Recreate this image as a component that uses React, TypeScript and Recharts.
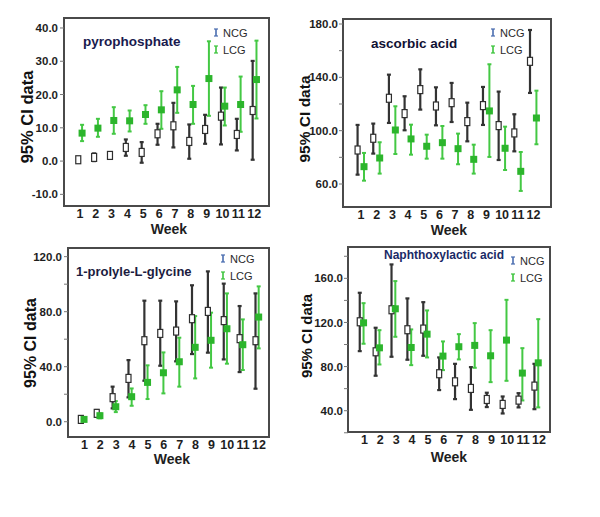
import React from "react";
import { ScatterChart, Scatter, XAxis, YAxis, ErrorBar, ReferenceArea } from "recharts";

const weeks = [1, 2, 3, 4, 5, 6, 7, 8, 9, 10, 11, 12];
const seriesNames = ["NCG", "LCG"];

// pyrophosphate
const pyroNcgMean = [0.4, 1.1, 1.7, 4.1, 2.6, 8.2, 10.6, 5.9, 9.5, 13.5, 8.0, 15.2];
const pyroNcgLow = [-0.3, 0.0, 0.8, 1.6, -0.5, 4.9, 4.1, 0.7, 5.2, 5.0, 3.2, 0.4];
const pyroNcgHigh = [1.0, 2.3, 2.6, 6.5, 5.7, 11.2, 17.5, 11.0, 13.9, 22.1, 12.7, 30.1];
const pyroLcgMean = [8.4, 9.9, 12.2, 12.1, 14.0, 15.4, 21.4, 17.0, 24.8, 16.5, 17.0, 24.5];
const pyroLcgLow = [6.0, 7.3, 8.2, 8.9, 11.2, 9.7, 14.5, 11.2, 13.6, 10.7, 8.8, 12.8];
const pyroLcgHigh = [10.9, 12.7, 16.2, 15.2, 16.8, 21.0, 28.3, 22.6, 36.0, 22.1, 25.4, 36.2];
const pyroTicks = [-10, 0, 10, 20, 30, 40];
const pyroLabeled = [-10, 0, 10, 20, 30, 40];

// ascorbic acid
const ascNcgMean = [85.5, 94.3, 124.3, 112.8, 130.8, 118.5, 121.0, 106.8, 118.8, 103.8, 98.3, 152.0];
const ascNcgLow = [67.0, 82.8, 105.8, 100.3, 115.8, 104.0, 106.5, 92.0, 104.3, 78.0, 84.5, 128.3];
const ascNcgHigh = [104.3, 105.3, 142.0, 125.8, 146.0, 132.5, 135.8, 121.0, 132.8, 129.3, 112.3, 175.5];
const ascLcgMean = [73.0, 79.5, 100.5, 93.8, 88.3, 91.0, 86.5, 78.5, 114.8, 86.8, 69.5, 109.5];
const ascLcgLow = [62.5, 67.8, 82.5, 82.0, 79.0, 79.0, 74.8, 67.8, 80.3, 70.5, 54.8, 89.8];
const ascLcgHigh = [83.3, 91.3, 118.3, 104.5, 97.0, 103.5, 97.8, 89.5, 149.8, 103.0, 84.0, 130.0];
const ascTicks = [60, 80, 100, 120, 140, 160, 180];
const ascLabeled = [60, 100, 140, 180];

// 1-prolyle-L-glycine
const proNcgMean = [1.7, 6.1, 17.5, 31.5, 58.9, 64.2, 65.9, 74.9, 80.2, 73.5, 60.4, 58.9];
const proNcgLow = [0.2, 3.5, 9.7, 17.7, 29.8, 40.7, 43.9, 49.2, 50.2, 45.3, 36.1, 24.0];
const proNcgHigh = [3.2, 8.5, 25.5, 44.8, 88.0, 88.0, 87.5, 99.2, 109.3, 100.4, 84.1, 93.3];
const proLcgMean = [1.7, 4.4, 10.9, 18.2, 28.6, 35.6, 43.6, 54.1, 59.2, 67.6, 56.0, 76.1];
const proLcgLow = [0.5, 2.5, 7.0, 11.6, 16.5, 20.6, 25.5, 31.5, 39.3, 42.2, 37.6, 53.3];
const proLcgHigh = [3.0, 6.0, 15.0, 24.2, 41.0, 50.4, 61.1, 76.8, 79.3, 93.3, 74.4, 98.4];
const proTicks = [0, 20, 40, 60, 80, 100, 120];
const proLabeled = [0, 40, 80, 120];

// Naphthoxylactic acid
const napNcgMean = [120.6, 93.4, 131.5, 113.4, 114.0, 73.5, 66.2, 60.2, 50.2, 45.7, 49.6, 62.3];
const napNcgLow = [94.0, 71.7, 88.9, 86.2, 89.8, 58.7, 50.5, 40.8, 43.3, 37.5, 43.0, 41.4];
const napNcgHigh = [146.9, 115.2, 172.6, 141.8, 138.4, 88.3, 82.5, 79.5, 56.3, 52.9, 55.9, 82.5];
const napLcgMean = [119.7, 97.0, 132.4, 97.3, 109.4, 89.5, 98.0, 99.2, 89.8, 104.0, 74.1, 83.4];
const napLcgLow = [100.7, 81.9, 107.0, 81.3, 88.3, 76.8, 86.5, 78.9, 65.9, 67.1, 49.3, 43.0];
const napLcgHigh = [137.5, 113.0, 157.5, 113.7, 130.9, 102.8, 109.4, 119.4, 113.0, 140.5, 96.7, 123.0];
const napTicks = [20, 40, 60, 80, 100, 120, 140, 160, 180];
const napLabeled = [40, 80, 120, 160];

const FONT = "'Liberation Sans', Arial, Helvetica, sans-serif";

function build(mean: number[], low: number[], high: number[], shift: number) {
  return weeks.map((w, i) => ({
    x: w + shift,
    y: mean[i],
    err: [mean[i] - low[i], high[i] - mean[i]],
  }));
}

const NcgShape = (p: any) => (
  <rect x={p.cx - 2.5} y={p.cy - 4} width={5} height={8} fill="#ffffff" stroke="#2e2e2e" strokeWidth={1.2} />
);
const LcgShape = (p: any) => (
  <rect x={p.cx - 3.5} y={p.cy - 3.5} width={7} height={7} fill="#2cb52c" />
);

const IBar = ({ color }: { color: string }) => (
  <svg width={6} height={9} style={{ display: "block" }}>
    <line x1={3} y1={1} x2={3} y2={8} stroke={color} strokeWidth={1.6} />
    <line x1={1} y1={1} x2={5} y2={1} stroke={color} strokeWidth={1.2} />
    <line x1={1} y1={8} x2={5} y2={8} stroke={color} strokeWidth={1.2} />
  </svg>
);

type PanelProps = {
  left: number; top: number; w: number; h: number;
  box: { l: number; t: number; r: number; b: number };
  xDomain: [number, number];
  yDomain: [number, number];
  yTicks: number[];
  yLabeled: number[];
  ncg: { x: number; y: number; err: number[] }[];
  lcg: { x: number; y: number; err: number[] }[];
  title: string; titleX: number; titleBase: number; titleSize: number; titleColor: string;
  legX: number; legY: number;
  yLab: { x: number; y: number; size: number };
  week: { x: number; top: number };
  yTickGap: number;
};

function Panel(p: PanelProps) {
  const { box } = p;
  return (
    <div style={{ position: "absolute", left: p.left, top: p.top, width: p.w, height: p.h }}>
      <ScatterChart
        width={p.w}
        height={p.h}
        margin={{ top: box.t, right: p.w - box.r, left: 0, bottom: 0 }}
      >
        <XAxis
          type="number"
          dataKey="x"
          domain={p.xDomain}
          ticks={weeks}
          interval={0}
          allowDataOverflow
          axisLine={false}
          tickLine={false}
          tickSize={0}
          tickMargin={3}
          height={p.h - box.b}
          tick={{ fontSize: 12.5, fontWeight: "bold", fill: "#1e1e1e", fontFamily: FONT }}
        />
        <YAxis
          type="number"
          dataKey="y"
          domain={p.yDomain}
          ticks={p.yTicks}
          interval={0}
          allowDataOverflow
          width={box.l}
          axisLine={false}
          tickLine={{ stroke: "#777", strokeWidth: 1 }}
          tickSize={4}
          tickMargin={p.yTickGap}
          tickFormatter={(v: number) => (p.yLabeled.includes(v) ? v.toFixed(1) : "")}
          tick={{ fontSize: 11.5, fontWeight: "bold", fill: "#1e1e1e", fontFamily: FONT }}
        />
        <ReferenceArea
          x1={p.xDomain[0]}
          x2={p.xDomain[1]}
          y1={p.yDomain[0]}
          y2={p.yDomain[1]}
          fill="none"
          fillOpacity={0}
          stroke="#4a4a4a"
          strokeWidth={2}
          ifOverflow="visible"
        />
        <Scatter name={seriesNames[0]} data={p.ncg} shape={NcgShape} isAnimationActive={false}>
          <ErrorBar dataKey="err" direction="y" width={2} stroke="#333333" strokeWidth={2.2} isAnimationActive={false} />
        </Scatter>
        <Scatter name={seriesNames[1]} data={p.lcg} shape={LcgShape} isAnimationActive={false}>
          <ErrorBar dataKey="err" direction="y" width={2} stroke="#44c844" strokeWidth={2} isAnimationActive={false} />
        </Scatter>
      </ScatterChart>
      <div
        style={{
          position: "absolute", left: p.titleX - p.left, top: p.titleBase - p.top - p.titleSize * 0.85,
          fontFamily: FONT, fontWeight: "bold", fontSize: p.titleSize, lineHeight: `${p.titleSize}px`,
          color: p.titleColor, whiteSpace: "nowrap",
        }}
      >
        {p.title}
      </div>
      <div style={{ position: "absolute", left: p.legX - p.left, top: p.legY - p.top, fontFamily: FONT, fontSize: 11, color: "#2a2a2a" }}>
        <div style={{ display: "flex", alignItems: "center", height: 17 }}>
          <IBar color="#4a6db0" />
          <span style={{ marginLeft: 4 }}>{seriesNames[0]}</span>
        </div>
        <div style={{ display: "flex", alignItems: "center", height: 17 }}>
          <IBar color="#3cc43c" />
          <span style={{ marginLeft: 4 }}>{seriesNames[1]}</span>
        </div>
      </div>
      <div
        style={{
          position: "absolute", left: p.yLab.x - p.left, top: p.yLab.y - p.top,
          transform: "translate(-50%, -50%) rotate(-90deg)", fontFamily: FONT, fontWeight: "bold",
          fontSize: p.yLab.size, lineHeight: 1, color: "#111", whiteSpace: "nowrap",
        }}
      >
        95% CI data
      </div>
      <div
        style={{
          position: "absolute", left: p.week.x - p.left, top: p.week.top - p.top,
          transform: "translateX(-50%)", fontFamily: FONT, fontWeight: "bold",
          fontSize: 14, lineHeight: 1, color: "#1e1e1e", whiteSpace: "nowrap",
        }}
      >
        Week
      </div>
    </div>
  );
}

export default function App() {
  return (
    <div style={{ position: "absolute", left: 0, top: 0, width: 600, height: 517, background: "#ffffff", overflow: "hidden" }}>
      <Panel
        left={0} top={0} w={300} h={235}
        box={{ l: 64, t: 18, r: 269, b: 206 }}
        xDomain={[0, 12.93]} yDomain={[-13.5, 43]}
        yTicks={pyroTicks} yLabeled={pyroLabeled}
        ncg={build(pyroNcgMean, pyroNcgLow, pyroNcgHigh, -0.1)}
        lcg={build(pyroLcgMean, pyroLcgLow, pyroLcgHigh, 0.14)}
        title="pyrophosphate" titleX={83} titleBase={46} titleSize={13.5} titleColor="#1a1a4e"
        legX={213} legY={24}
        yLab={{ x: 27, y: 117, size: 16.5 }}
        week={{ x: 169, top: 222 }}
        yTickGap={2}
      />
      <Panel
        left={300} top={0} w={300} h={235}
        box={{ l: 43, t: 19, r: 251, b: 207 }}
        xDomain={[-0.15, 13.12]} yDomain={[42.75, 183.75]}
        yTicks={ascTicks} yLabeled={ascLabeled}
        ncg={build(ascNcgMean, ascNcgLow, ascNcgHigh, -0.22)}
        lcg={build(ascLcgMean, ascLcgLow, ascLcgHigh, 0.19)}
        title="ascorbic acid" titleX={371} titleBase={48} titleSize={13.5} titleColor="#111133"
        legX={490} legY={24}
        yLab={{ x: 305, y: 119, size: 15.5 }}
        week={{ x: 449, top: 223 }}
        yTickGap={1}
      />
      <Panel
        left={0} top={235} w={300} h={250}
        box={{ l: 68, t: 13, r: 269, b: 202 }}
        xDomain={[-0.03, 12.63]} yDomain={[-11.1, 126.3]}
        yTicks={proTicks} yLabeled={proLabeled}
        ncg={build(proNcgMean, proNcgLow, proNcgHigh, -0.22)}
        lcg={build(proLcgMean, proLcgLow, proLcgHigh, -0.02)}
        title="1-prolyle-L-glycine" titleX={76} titleBase={276} titleSize={13} titleColor="#1c1c40"
        legX={220} legY={250}
        yLab={{ x: 31, y: 343, size: 16 }}
        week={{ x: 172, top: 452 }}
        yTickGap={2}
      />
      <Panel
        left={300} top={235} w={300} h={250}
        box={{ l: 48, t: 12, r: 250, b: 197 }}
        xDomain={[-0.03, 12.69]} yDomain={[20.7, 188.4]}
        yTicks={napTicks} yLabeled={napLabeled}
        ncg={build(napNcgMean, napNcgLow, napNcgHigh, -0.29)}
        lcg={build(napLcgMean, napLcgLow, napLcgHigh, -0.05)}
        title="Naphthoxylactic acid" titleX={384} titleBase={259} titleSize={12} titleColor="#1a2a66"
        legX={510} legY={252}
        yLab={{ x: 306, y: 336, size: 15 }}
        week={{ x: 449, top: 450 }}
        yTickGap={1}
      />
    </div>
  );
}
